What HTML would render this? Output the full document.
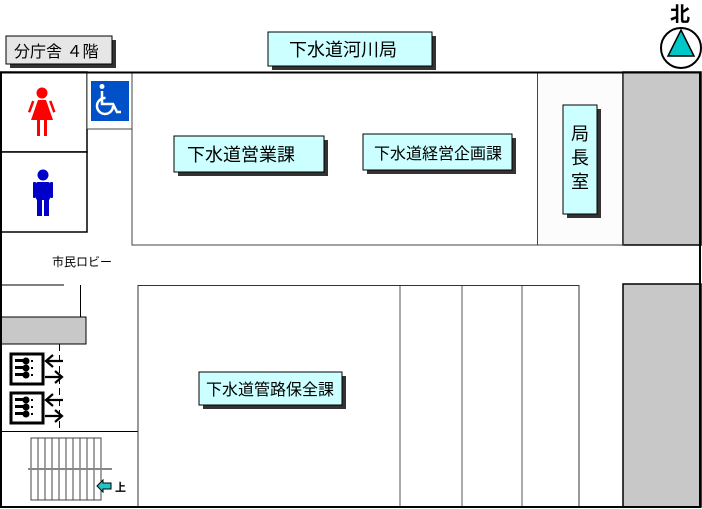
<!DOCTYPE html>
<html><head><meta charset="utf-8"><style>
html,body{margin:0;padding:0;background:#fff;width:702px;height:509px;overflow:hidden}
svg text{font-family:"Liberation Sans","Noto Sans CJK JP",sans-serif}
</style></head><body>
<svg width="702" height="509" xmlns="http://www.w3.org/2000/svg">
<defs>
<g id="elev">
<rect x="0" y="0" width="32" height="30" fill="#fff" stroke="#000" stroke-width="3"/>
<rect x="4" y="5" width="8" height="3" fill="#000"/><circle cx="15" cy="7" r="3.5" fill="#000"/><rect x="20" y="6" width="2" height="2" fill="#000"/>
<rect x="4" y="12" width="8" height="3" fill="#000"/><circle cx="15" cy="14" r="3.5" fill="#000"/><rect x="20" y="13" width="2" height="2" fill="#000"/>
<rect x="4" y="19" width="8" height="3" fill="#000"/><circle cx="15" cy="21" r="3.5" fill="#000"/><rect x="20" y="20" width="2" height="2" fill="#000"/>
<path d="M35 7 H52 M42 1 L35 7 L42 13" fill="none" stroke="#000" stroke-width="2.2"/>
<path d="M34 23 H51 M44 17 L51 23 L44 29" fill="none" stroke="#000" stroke-width="2.2"/>
</g>
</defs>
<rect x="623" y="72" width="78" height="173" fill="#c8c8c8" stroke="#000" stroke-width="1.5"/>
<rect x="623" y="284" width="78" height="223" fill="#c8c8c8" stroke="#000" stroke-width="1.5"/>
<rect x="0" y="317" width="86" height="27" fill="#c8c8c8" stroke="#000" stroke-width="1"/>
<rect x="132" y="72" width="491" height="173" fill="#fff" stroke="#444" stroke-width="1"/>
<rect x="537.5" y="72" width="85" height="173" fill="#fcfcfc" stroke="#444" stroke-width="1"/>
<rect x="0" y="72" width="87" height="80" fill="#fff" stroke="#000" stroke-width="1.5"/>
<rect x="0" y="152" width="87" height="80" fill="#fff" stroke="#000" stroke-width="1.5"/>
<rect x="87" y="72" width="45" height="57" fill="#fff" stroke="#444" stroke-width="1"/>
<line x1="87" y1="129" x2="87" y2="232" stroke="#000" stroke-width="1"/>
<g fill="#f00"><circle cx="42" cy="93" r="5.5"/><path d="M38 100 H46 L53 120 H31 Z"/><rect x="37" y="119" width="3" height="17"/><rect x="44" y="119" width="3" height="17"/><rect x="32" y="101" width="2.5" height="12" transform="rotate(20 33 101)"/><rect x="49" y="101" width="2.5" height="12" transform="rotate(-20 50 101)"/></g>
<g fill="#0000c8"><circle cx="43" cy="175" r="5.5"/><rect x="36" y="182" width="14" height="18" rx="2"/><rect x="33" y="182" width="3" height="16" rx="1"/><rect x="50" y="182" width="3" height="16" rx="1"/><rect x="37" y="198" width="5" height="18"/><rect x="44" y="198" width="5" height="18"/></g>
<rect x="91" y="81" width="38" height="40" fill="#0050c8"/>
<g stroke="#fff" stroke-width="2.5" fill="none"><circle cx="105" cy="106" r="8" stroke-dasharray="38 12"/><path d="M102 91 V104 H113 L117 112 H121"/></g>
<circle cx="102" cy="86.5" r="2.5" fill="#fff"/>
<text x="52" y="266" font-size="12" fill="#000">市民ロビー</text>
<line x1="0" y1="285" x2="64" y2="285" stroke="#000" stroke-width="1"/>
<line x1="80.5" y1="285" x2="80.5" y2="317" stroke="#000" stroke-width="1"/>
<line x1="59.5" y1="344" x2="59.5" y2="431" stroke="#000" stroke-width="1" stroke-dasharray="7 4"/>
<use href="#elev" x="11" y="354"/>
<use href="#elev" x="11" y="393"/>
<line x1="0" y1="431.5" x2="138" y2="431.5" stroke="#000" stroke-width="1"/>
<g stroke="#444" stroke-width="1" fill="none">
<rect x="31" y="438" width="70" height="62"/>
<path d="M38 438V500M45 438V500M52 438V500M59 438V500M66 438V500M73 438V500M80 438V500M87 438V500M94 438V500"/>
</g>
<rect x="28" y="468" width="84" height="2" fill="#888"/>
<path d="M97 486 L103 480 V483 H111 V489 H103 V492 Z" fill="#22c4c4" stroke="#000" stroke-width="1"/>
<text x="115" y="491" font-size="11" font-weight="bold" fill="#000">上</text>
<rect x="138" y="285.5" width="441" height="221" fill="#fff" stroke="#333" stroke-width="1"/>
<g stroke="#555" stroke-width="1"><line x1="400" y1="286" x2="400" y2="507"/><line x1="462" y1="286" x2="462" y2="507"/><line x1="522" y1="286" x2="522" y2="507"/></g>
<rect x="1" y="72.5" width="699" height="434.5" fill="none" stroke="#000" stroke-width="2"/>
<g font-size="17" fill="#000">
<rect x="10" y="40" width="106" height="28" fill="#333"/><rect x="6" y="36" width="106" height="28" fill="#e6e6e6" stroke="#000"/><text x="14" y="57" font-size="16">分庁舎 ４階</text>
<rect x="272" y="36" width="164" height="34" fill="#333"/><rect x="268" y="32" width="164" height="34" fill="#ccffff" stroke="#000"/><text x="289" y="56" font-size="18">下水道河川局</text>
<rect x="178" y="140" width="150" height="36" fill="#333"/><rect x="174" y="136" width="150" height="36" fill="#ccffff" stroke="#000"/><text x="187" y="161" font-size="18">下水道営業課</text>
<rect x="367" y="138" width="149" height="36" fill="#333"/><rect x="363" y="134" width="149" height="36" fill="#ccffff" stroke="#000"/><text x="374" y="159" font-size="16">下水道経営企画課</text>
<rect x="567" y="109" width="34" height="109" fill="#333"/><rect x="563" y="105" width="34" height="109" fill="#ccffff" stroke="#000"/>
<text x="571" y="140" font-size="18">局</text><text x="571" y="164" font-size="18">長</text><text x="571" y="188" font-size="18">室</text>
<rect x="203" y="376" width="143" height="33" fill="#333"/><rect x="199" y="372" width="143" height="33" fill="#ccffff" stroke="#000"/><text x="206" y="395" font-size="16">下水道管路保全課</text>
</g>
<text x="670" y="21" font-size="20" font-weight="bold" fill="#000">北</text>
<circle cx="681" cy="48" r="20" fill="#fff" stroke="#000" stroke-width="2"/>
<path d="M681 30 L694 56 H668 Z" fill="#00c8c8" stroke="#000" stroke-width="1.5"/>
</svg>
</body></html>
